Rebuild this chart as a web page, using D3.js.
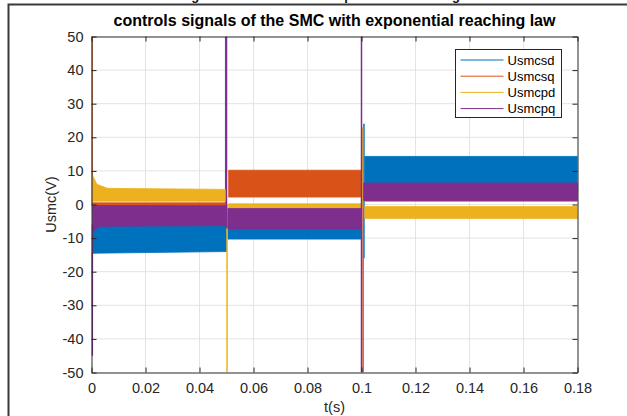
<!DOCTYPE html>
<html>
<head>
<meta charset="utf-8">
<script src="https://cdn.jsdelivr.net/npm/d3@7"></script>
<style>
  body { margin: 0; background: #fff; }
  svg { display: block; font-family: "Liberation Sans", Arial, sans-serif; }
</style>
</head>
<body>
<div id="chart"></div>
<script>
(function() {
    var width = 627;
    var height = 416;

    // series names and colours (MATLAB default order)
    var names = ["Usmcsd", "Usmcsq", "Usmcpd", "Usmcpq"];
    var colors = ["#0072BD", "#D95319", "#EDB120", "#7E2F8E"];

    // noise bands: [t, low, high], one list per segment
    var usmcsd = [
        [[0.0004, -14.5, -6], [0.05, -14, -6]],
        [[0.0505, -10.3, -4], [0.0998, -10.3, -4]],
        [[0.1012, 4, 14.3], [0.18, 4, 14.3]]
    ];
    var usmcsq = [
        [[0.0004, -1.5, 0.5], [0.0498, -1.5, 0.5]],
        [[0.0508, 2.2, 10.2], [0.0998, 2.2, 10.2]],
        [[0.1012, 1, 6], [0.18, 1, 6]]
    ];
    var usmcpd = [
        [[0.0004, 1, 8.7], [0.002, 1, 6], [0.006, 1, 4.8], [0.0498, 1, 4.5]],
        [[0.0508, -1.3, 0.2], [0.0998, -1.3, 0.2]],
        [[0.1012, -4.2, -0.6], [0.18, -4.2, -0.6]]
    ];
    var usmcpq = [
        [[0.0004, -8, -0.3], [0.003, -6.5, -0.3], [0.05, -6.3, -0.4]],
        [[0.0505, -7.3, -1.2], [0.0998, -7.3, -1.2]],
        [[0.1008, 1.2, 6.4], [0.18, 1.2, 6.4]]
    ];
    // switching spikes: [t, from, to]
    var spikesd = [[0.0003, -14, -30], [0.0497, -6, 50], [0.1009, -16, 24]];
    var spikesq = [[0.0002, 0, 50], [0.1006, 1, -50]];
    var spikepd = [[0.0502, 0, -50], [0.1004, -1, 23]];
    var spikepq = [[0.0003, -6, -45], [0.05, -7, 50], [0.1, -50, 50]];

    var bands = [usmcsd, usmcsq, usmcpd, usmcpq];
    var spikes = [spikesd, spikesq, spikepd, spikepq];

    var xTicks = [0, 0.02, 0.04, 0.06, 0.08, 0.1, 0.12, 0.14, 0.16, 0.18];
    var yTicks = [-50, -40, -30, -20, -10, 0, 10, 20, 30, 40, 50];

    var margin = { left: 91.5, right: 49.5, top: 36.5, bottom: 43.5 };
    var plotW = width - margin.left - margin.right;
    var plotH = height - margin.top - margin.bottom;

    var svg = d3.select("#chart")
        .append("svg")
        .attr("width", width)
        .attr("height", height);

    // outer frame of the figure and the clipped caption line at the very top
    svg.append("text")
        .attr("x", 305)
        .attr("y", 0)
        .attr("text-anchor", "middle")
        .attr("font-weight", "bold")
        .attr("font-size", 13)
        .attr("fill", "#111")
        .text("controls signals of the SMC with exponential reaching law");
    svg.append("path")
        .attr("d", "M8.5,416V4.5H627")
        .attr("fill", "none")
        .attr("stroke", "#3a3a3a")
        .attr("stroke-width", 2);

    var x = d3.scaleLinear().domain([0, 0.18]).range([0, plotW]);
    var y = d3.scaleLinear().domain([-50, 50]).range([plotH, 0]);

    var g = svg.append("g")
        .attr("transform", "translate(" + margin.left + "," + margin.top + ")");

    g.append("defs").append("clipPath").attr("id", "clip")
        .append("rect").attr("width", plotW).attr("height", plotH);

    // grid
    g.append("g").selectAll("line").data(xTicks.slice(1, -1)).enter().append("line")
        .attr("x1", function(d) { return x(d); }).attr("x2", function(d) { return x(d); })
        .attr("y1", 0).attr("y2", plotH)
        .attr("stroke", "#e3e3e3");
    g.append("g").selectAll("line").data(yTicks.slice(1, -1)).enter().append("line")
        .attr("y1", function(d) { return y(d); }).attr("y2", function(d) { return y(d); })
        .attr("x1", 0).attr("x2", plotW)
        .attr("stroke", "#e3e3e3");

    var area = d3.area()
        .x(function(d) { return x(d[0]); })
        .y0(function(d) { return y(d[1]); })
        .y1(function(d) { return y(d[2]); });

    var plot = g.append("g").attr("clip-path", "url(#clip)");

    for (var i = 0; i < names.length; i++) {
        var sg = plot.append("g");
        sg.selectAll("path").data(bands[i]).enter().append("path")
            .attr("d", area)
            .attr("fill", colors[i])
            .attr("stroke", colors[i])
            .attr("stroke-width", 0.8);
        sg.selectAll("line").data(spikes[i]).enter().append("line")
            .attr("x1", function(d) { return x(d[0]); })
            .attr("x2", function(d) { return x(d[0]); })
            .attr("y1", function(d) { return y(d[1]); })
            .attr("y2", function(d) { return y(d[2]); })
            .attr("stroke", colors[i])
            .attr("stroke-width", 1.5);
    }

    // axes (box on, ticks inside)
    var axisColor = "#262626";
    var fmt = function(d) { return String(+d.toFixed(2)); };

    var xb = g.append("g").attr("transform", "translate(0," + plotH + ")")
        .call(d3.axisBottom(x).tickValues(xTicks).tickSizeInner(-5).tickSizeOuter(0).tickPadding(10).tickFormat(fmt));
    var xt = g.append("g")
        .call(d3.axisTop(x).tickValues(xTicks).tickSizeInner(-5).tickSizeOuter(0).tickFormat(""));
    var yl = g.append("g")
        .call(d3.axisLeft(y).tickValues(yTicks).tickSizeInner(-5).tickSizeOuter(0).tickPadding(8).tickFormat(fmt));
    var yr = g.append("g").attr("transform", "translate(" + plotW + ",0)")
        .call(d3.axisRight(y).tickValues(yTicks).tickSizeInner(-5).tickSizeOuter(0).tickFormat(""));

    [xb, xt, yl, yr].forEach(function(a) {
        a.select(".domain").attr("stroke", axisColor);
        a.selectAll(".tick line").attr("stroke", axisColor);
        a.selectAll("text").attr("fill", "#262626").attr("font-size", 14.5)
            .attr("font-family", "'Liberation Sans', Arial, sans-serif");
    });

    // title and axis labels
    svg.append("text")
        .attr("x", margin.left + plotW / 2)
        .attr("y", 26)
        .attr("text-anchor", "middle")
        .attr("font-weight", "bold")
        .attr("font-size", 16)
        .attr("fill", "#000")
        .text("controls signals of the SMC with exponential reaching law");
    svg.append("text")
        .attr("x", margin.left + plotW / 2)
        .attr("y", 412)
        .attr("text-anchor", "middle")
        .attr("font-size", 14.5)
        .attr("fill", "#262626")
        .text("t(s)");
    svg.append("text")
        .attr("transform", "translate(56," + (margin.top + plotH / 2) + ") rotate(-90)")
        .attr("text-anchor", "middle")
        .attr("font-size", 14.5)
        .attr("fill", "#262626")
        .text("Usmc(V)");

    // legend
    var lg = svg.append("g").attr("transform", "translate(455.5,49.5)");
    lg.append("rect")
        .attr("width", 106).attr("height", 68)
        .attr("fill", "#fff").attr("stroke", axisColor);
    var row = lg.selectAll("g.row").data(names).enter().append("g")
        .attr("transform", function(d, k) { return "translate(0," + (10.5 + k * 16.2) + ")"; });
    row.append("line")
        .attr("x1", 5).attr("x2", 48)
        .attr("stroke", function(d, k) { return colors[k]; });
    row.append("text")
        .attr("x", 52).attr("y", 4.5)
        .attr("font-size", 13)
        .attr("fill", "#000")
        .text(function(d) { return d; });
})();
</script>
</body>
</html>
